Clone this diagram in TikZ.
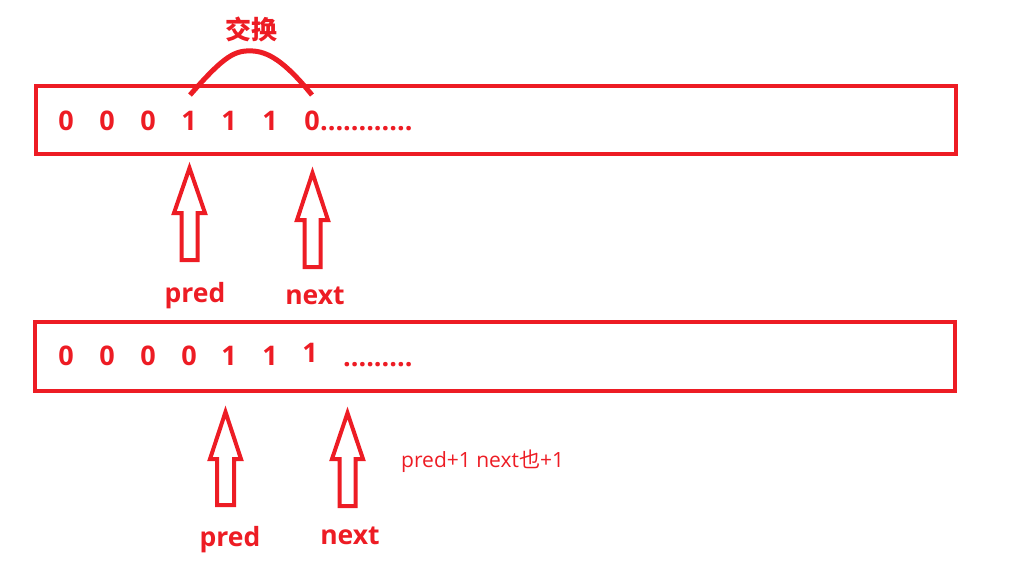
\documentclass[tikz,border=0pt]{standalone}
\usepackage{fontspec}
\setmainfont{Open Sans}
\newfontfamily\cjk{Noto Sans CJK SC}
\definecolor{pr}{HTML}{ED1C24}
\begin{document}
\begin{tikzpicture}[x=1pt,y=-1pt,
  box/.style={draw=pr,line width=4.5pt},
  dig/.style={text=pr,font=\bfseries\fontsize{27}{30}\selectfont,inner sep=0pt},
  lbl/.style={text=pr,font=\bfseries\fontsize{26.5}{30}\selectfont,inner sep=0pt},
  blk/.style={draw=pr,line width=4pt,line join=miter}]
\useasboundingbox (0,0) rectangle (1011,582);
% boxes
\draw[box] (36,86) rectangle (956,154);
\draw[box] (35,322) rectangle (955,391);
% top row
\foreach \x/\d [count=\i] in {66/0,107/0,148/0,189/1,229/1,270/1,312/0}
  \node[dig] (t\i) at (\x,121) {\d};
\node[dig,anchor=base west] (tdots) at (t7.base east) {............};
% bottom row
\foreach \x/\d [count=\i] in {66/0,107/0,148/0,189/0,229/1,270/1}
  \node[dig] (b\i) at (\x,356) {\d};
\node[dig] (b7) at (310,353) {1};
\node[dig,anchor=base west] (bdots) at (343,366) {.........};
% swap arc
\coordinate (s1) at (190,95);
\coordinate (s2) at (312,95);
\draw[pr,line width=5pt] (s1) .. controls (225,55) and (235,50) .. (253,51) .. controls (272,52) and (290,68) .. (s2);
\node[text=pr,font=\cjk\bfseries\fontsize{26}{30}\selectfont] (swap) at (251,29) {交换};
% arrows
\newcommand\blockarrow[6]{% tipx tipy headbase halfhead halfshaft bottom
  \draw[blk] (#1,#2) -- (#1+#4,#3) -- (#1+#5,#3) -- (#1+#5,#6) -- (#1-#5,#6) -- (#1-#5,#3) -- (#1-#4,#3) -- cycle;}
\blockarrow{189.5}{168}{213}{15.5}{8}{260}
\blockarrow{312.5}{173}{220}{15.5}{8}{267}
\blockarrow{225.5}{412}{459}{15.5}{8.5}{505}
\blockarrow{347.5}{413}{459}{15.5}{8}{506}
% labels
\node[lbl] (p1) at (195,296) {pred};
\node[lbl] (n1) at (315,296) {next};
\node[lbl] (p2) at (230,540) {pred};
\node[lbl] (n2) at (350,536) {next};
\node[text=pr,font=\fontsize{21}{24}\selectfont,anchor=west,inner sep=0pt] (note) at (401,461) {pred+1 next{\cjk 也}+1};
\end{tikzpicture}
\end{document}
